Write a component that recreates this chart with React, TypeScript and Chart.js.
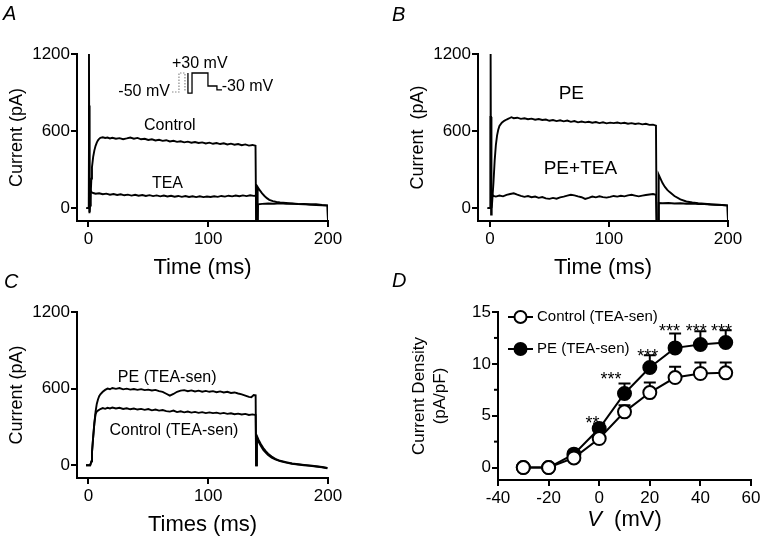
import React, { useEffect, useRef } from "react";
import { Chart, registerables } from "chart.js";

Chart.register(...registerables);

const FONT = '"Liberation Sans", Arial, Helvetica, sans-serif';

// ---------- Panel A: Control vs TEA (time ms, current pA) ----------
const A_CONTROL: [number, number][] = [
  [-1.7, 0], [0.3, 0], [0.5, 1200], [0.9, -40], [1.4, 20], [2, 120], [2.5, 230], [3, 320], [4, 400], [5, 450],
  [6, 485], [7, 510], [8, 528], [9, 540], [10, 548], [12, 552], [14, 546], [16, 550], [18, 543], [20, 548],
  [23, 540], [26, 545], [29, 537], [32, 543], [35, 550], [38, 541], [41, 547], [44, 536], [47, 540], [50, 531],
  [53, 536], [56, 527], [59, 532], [62, 524], [65, 529], [68, 519], [71, 524], [74, 516], [77, 521], [80, 512],
  [83, 518], [86, 509], [89, 515], [92, 507], [95, 512], [98, 504], [101, 510], [104, 501], [107, 507], [110, 499],
  [113, 505], [116, 496], [119, 502], [122, 494], [125, 499], [128, 490], [131, 496], [134, 487], [137, 492], [139.5, 486],
  [140, -100], [141, -100], [141.3, 165], [143, 140], [145, 115], [147, 95], [149, 78], [151, 65], [154, 55], [157, 48],
  [160, 44], [165, 40], [170, 36], [175, 32], [180, 30], [185, 28], [190, 25], [195, 22], [199.6, 20], [200, -100],
];
const A_TEA: [number, number][] = [
  [-1.7, 0], [0.3, 0], [0.6, 800], [1.0, -30], [1.8, 140], [2.5, 125], [4, 118], [6, 112], [9, 116], [12, 108],
  [15, 113], [18, 105], [21, 110], [24, 103], [27, 108], [30, 100], [33, 105], [36, 98], [39, 104], [42, 97],
  [45, 102], [48, 95], [51, 101], [54, 94], [57, 99], [60, 92], [63, 98], [66, 91], [69, 96], [72, 89],
  [75, 95], [78, 88], [81, 94], [84, 87], [87, 93], [90, 86], [93, 92], [96, 86], [99, 91], [102, 87],
  [105, 93], [108, 88], [111, 95], [114, 90], [117, 97], [120, 92], [123, 98], [126, 93], [129, 99], [132, 94],
  [135, 100], [138, 96], [139.8, 98], [140.2, -100], [141.3, -100], [141.6, 30], [145, 33], [150, 36], [155, 34], [160, 37],
  [165, 33], [170, 35], [175, 31], [180, 33], [185, 28], [190, 30], [195, 25], [199.6, 22], [200, -100],
];
// voltage-protocol inset, drawn in the panel's own (ms, pA) frame
const A_PROTOCOL_DOTTED: [number, number][] = [[69.8, 904], [75.6, 904], [75.6, 1052], [80.6, 1052], [80.6, 904]];
const A_PROTOCOL_SOLID: [number, number][] = [
  [83.1, 1052], [83.1, 896], [86.5, 896], [86.5, 1052], [99.8, 1052], [99.8, 951], [107.3, 951], [107.3, 920], [111.5, 920],
];

// ---------- Panel B: PE vs PE+TEA ----------
const B_PE: [number, number][] = [
  [-2, 0], [0.3, 0], [0.6, 1200], [1.0, -50], [1.5, 0], [2, 60], [3, 200], [4, 370], [5, 490], [6, 565],
  [7, 610], [8, 640], [10, 665], [12, 680], [14, 690], [16, 698], [18, 708], [20, 700], [23, 704], [26, 695],
  [29, 700], [32, 692], [35, 697], [38, 688], [41, 694], [44, 686], [47, 690], [50, 680], [53, 686], [56, 678],
  [59, 684], [62, 676], [65, 682], [68, 672], [71, 678], [74, 668], [77, 674], [80, 668], [83, 672], [86, 665],
  [89, 670], [92, 662], [95, 668], [98, 660], [101, 666], [104, 662], [107, 667], [110, 660], [113, 665], [116, 657],
  [119, 662], [122, 655], [125, 660], [128, 652], [131, 657], [134, 648], [137, 650], [139.5, 642], [140, -100], [141.5, -100],
  [141.8, 260], [143, 235], [145, 195], [147, 165], [149, 142], [151, 125], [155, 95], [160, 68], [165, 52], [170, 44],
  [175, 38], [180, 34], [185, 30], [190, 27], [195, 24], [199.6, 22], [200, -100],
];
const B_PE_TEA: [number, number][] = [
  [-2, 0], [0.3, 0], [0.5, 710], [1.0, 710], [1.3, 0], [2, 105], [3, 95], [5, 90], [8, 98], [11, 92],
  [14, 104], [17, 110], [20, 116], [23, 105], [26, 96], [29, 88], [32, 94], [35, 85], [38, 90], [41, 80],
  [44, 86], [47, 76], [50, 72], [53, 80], [56, 74], [59, 84], [62, 90], [65, 98], [68, 104], [71, 100],
  [74, 92], [77, 85], [80, 72], [83, 80], [86, 90], [89, 84], [92, 92], [95, 86], [98, 82], [101, 88],
  [104, 95], [107, 90], [110, 96], [113, 92], [116, 99], [119, 104], [122, 98], [125, 92], [128, 98], [131, 102],
  [134, 106], [137, 110], [139.5, 104], [140, -100], [141.5, -100], [141.8, 40], [145, 38], [150, 40], [155, 36], [160, 38],
  [165, 34], [170, 35], [175, 31], [180, 32], [185, 28], [190, 27], [195, 24], [199.6, 20], [200, -100],
];

// ---------- Panel C: TEA-sensitive currents ----------
const C_PE: [number, number][] = [
  [-2, 0], [1.5, 0], [2.5, 30], [3, 100], [4, 220], [5, 330], [6, 420], [7, 480], [8, 515], [9, 540],
  [10, 555], [12, 575], [14, 590], [16, 600], [18, 595], [20, 605], [23, 598], [26, 604], [29, 594], [32, 600],
  [35, 592], [38, 597], [41, 590], [44, 596], [47, 588], [50, 592], [53, 585], [56, 590], [59, 580], [62, 575],
  [65, 560], [68, 545], [71, 558], [74, 575], [77, 584], [80, 588], [83, 580], [86, 586], [89, 578], [92, 584],
  [95, 576], [98, 582], [101, 575], [104, 580], [107, 572], [110, 578], [113, 570], [116, 575], [119, 566], [122, 570],
  [125, 562], [128, 555], [131, 545], [134, 535], [136, 532], [138, 550], [139.6, 548], [140, 0], [140.6, 230], [142, 200],
  [144, 165], [146, 135], [148, 110], [150, 90], [153, 68], [156, 50], [160, 35], [165, 24], [170, 14], [175, 8],
  [180, 3], [185, -2], [190, -8], [195, -14], [199.5, -22],
];
const C_CONTROL: [number, number][] = [
  [-2, 0], [1.5, 0], [2.5, 30], [3, 100], [4, 220], [5, 330], [6, 400], [7, 420], [8, 428], [10, 440],
  [12, 448], [14, 442], [16, 450], [18, 445], [20, 452], [23, 444], [26, 450], [29, 441], [32, 446], [35, 438],
  [38, 444], [41, 436], [44, 441], [47, 434], [50, 440], [53, 430], [56, 436], [59, 428], [62, 432], [65, 424],
  [68, 420], [71, 428], [74, 416], [77, 422], [80, 414], [83, 420], [86, 412], [89, 418], [92, 410], [95, 416],
  [98, 408], [101, 414], [104, 408], [107, 412], [110, 404], [113, 410], [116, 402], [119, 407], [122, 399], [125, 404],
  [128, 397], [131, 402], [134, 394], [137, 398], [139.6, 393], [140, 0], [140.6, 220], [142, 185], [144, 150], [146, 120],
  [148, 98], [150, 80], [153, 60], [156, 45], [160, 32], [165, 20], [170, 12], [175, 6], [180, 0], [185, -5],
  [190, -10], [195, -16], [199.5, -24],
];

const TIME_TICKS = [0, 100, 200];
const CURRENT_TICKS = [0, 600, 1200];

// ---------- Panel D: I-V relation ----------
const D_VOLTAGE = [-30, -20, -10, 0, 10, 20, 30, 40, 50];
const D_CONTROL = [0, 0, 0.93, 2.8, 5.37, 7.23, 8.68, 9.07, 9.13];
const D_CONTROL_ERR = [0, 0, 0.2, 0.3, 0.64, 0.97, 1.03, 1.06, 1.0];
const D_PE = [0, 0, 1.29, 3.76, 7.14, 9.65, 11.54, 11.86, 12.06];
const D_PE_ERR = [0, 0, 0.2, 0.48, 0.96, 1.18, 1.39, 1.29, 1.19];
const D_X_TICKS = [-40, -20, 0, 20, 40, 60];
const D_Y_TICKS = [0, 5, 10, 15];
const D_Y_MINOR = [2.5, 7.5, 12.5];
const D_STAR_TEXT = ["**", "***", "***", "***", "***", "***"];
const D_STAR_V = [-2.6, 4.7, 19.2, 27.8, 38.4, 48.3];
const D_STAR_Y = [4.72, 8.9, 11.15, 13.55, 13.55, 13.55];

type Pt = [number, number];

function axis(o: {
  min: number; max: number; ticks: number[]; isX: boolean; size: number;
  title?: string; titleSize?: number; tickLen?: number;
}) {
  return {
    type: "linear",
    min: o.min,
    max: o.max,
    afterBuildTicks: (s: any) => { s.ticks = o.ticks.map((v) => ({ value: v })); },
    afterFit: (s: any) => { if (o.isX) s.height = o.size; else s.width = o.size; },
    border: { display: true, color: "#000", width: 2 },
    grid: { display: true, drawOnChartArea: false, drawTicks: true, tickLength: o.tickLen ?? 6, color: "#000", lineWidth: 2 },
    ticks: {
      color: "#000", font: { family: FONT, size: 17 }, padding: o.isX ? 2 : 1,
      maxRotation: 0, minRotation: 0, autoSkip: false, callback: (v: any) => String(v),
    },
    title: o.title
      ? { display: true, text: o.title, color: "#000", font: { family: FONT, size: o.titleSize ?? 18 }, padding: { top: 6, bottom: 0 } }
      : { display: false },
  };
}

function textAt(ctx: CanvasRenderingContext2D, text: string, x: number, y: number, size: number, style = "") {
  ctx.save();
  ctx.fillStyle = "#000";
  ctx.font = `${style}${size}px ${FONT}`;
  ctx.textAlign = "center";
  ctx.textBaseline = "middle";
  ctx.fillText(text, x, y);
  ctx.restore();
}

function letter(ctx: CanvasRenderingContext2D, text: string, x: number, y: number) {
  ctx.save();
  ctx.fillStyle = "#000";
  ctx.font = `italic 20px ${FONT}`;
  ctx.textAlign = "left";
  ctx.textBaseline = "alphabetic";
  ctx.fillText(text, x, y);
  ctx.restore();
}

function traceDataset(tr: Pt[]) {
  return {
    data: tr.map(([x, y]) => ({ x, y })),
    borderColor: "#000",
    borderWidth: 1.9,
    pointRadius: 0,
    fill: false,
    tension: 0,
  };
}

function traceConfig(p: {
  traces: Pt[][]; xmin: number; padding: { left: number; top: number; right: number; bottom: number };
  yTitle: string; xTitle: string; draw: (chart: any) => void;
}) {
  return {
    type: "line",
    data: { datasets: p.traces.map(traceDataset) },
    options: {
      responsive: false,
      animation: false,
      devicePixelRatio: 1,
      layout: { padding: p.padding },
      plugins: { legend: { display: false }, tooltip: { enabled: false } },
      scales: {
        x: axis({ min: p.xmin, max: 200, ticks: TIME_TICKS, isX: true, size: 60, title: p.xTitle, titleSize: 22 }),
        y: axis({ min: -100, max: 1200, ticks: CURRENT_TICKS, isX: false, size: 77, title: p.yTitle, titleSize: 18 }),
      },
    },
    plugins: [{ id: "annot", afterDraw: (chart: any) => p.draw(chart) }],
  };
}

function configA() {
  return traceConfig({
    traces: [A_CONTROL, A_TEA], xmin: -9.5,
    padding: { left: 0, top: 54, right: 437, bottom: 263 },
    yTitle: "Current (pA)", xTitle: "Time (ms)",
    draw: (chart) => {
      const ctx = chart.ctx as CanvasRenderingContext2D;
      const xs = chart.scales.x, ys = chart.scales.y;
      const px = (t: number) => xs.getPixelForValue(t);
      const py = (i: number) => ys.getPixelForValue(i);
      letter(ctx, "A", 3, 20);
      textAt(ctx, "Control", px(68), py(640), 16);
      textAt(ctx, "TEA", px(66), py(190), 16);
      textAt(ctx, "+30 mV", px(93), py(1122), 16);
      textAt(ctx, "-50 mV", px(46.5), py(911), 16);
      textAt(ctx, "-30 mV", px(132.8), py(945), 16);
      const poly = (pts: Pt[]) => {
        ctx.beginPath();
        pts.forEach(([t, i], k) => (k ? ctx.lineTo(px(t), py(i)) : ctx.moveTo(px(t), py(i))));
        ctx.stroke();
      };
      ctx.save();
      ctx.strokeStyle = "#888";
      ctx.lineWidth = 1.2;
      ctx.setLineDash([1.5, 1.5]);
      poly(A_PROTOCOL_DOTTED);
      ctx.setLineDash([]);
      ctx.strokeStyle = "#000";
      ctx.lineWidth = 1.3;
      poly(A_PROTOCOL_SOLID);
      ctx.restore();
    },
  });
}

function configB() {
  return traceConfig({
    traces: [B_PE, B_PE_TEA], xmin: -10,
    padding: { left: 401, top: 54, right: 37, bottom: 263 },
    yTitle: "Current  (pA)", xTitle: "Time (ms)",
    draw: (chart) => {
      const ctx = chart.ctx as CanvasRenderingContext2D;
      const xs = chart.scales.x, ys = chart.scales.y;
      letter(ctx, "B", 392, 21);
      textAt(ctx, "PE", xs.getPixelForValue(68.4), ys.getPixelForValue(888), 19);
      textAt(ctx, "PE+TEA", xs.getPixelForValue(76), ys.getPixelForValue(309), 19);
    },
  });
}

function configC() {
  return traceConfig({
    traces: [C_PE, C_CONTROL], xmin: -9.5,
    padding: { left: 0, top: 312, right: 437, bottom: 6 },
    yTitle: "Current (pA)", xTitle: "Times (ms)",
    draw: (chart) => {
      const ctx = chart.ctx as CanvasRenderingContext2D;
      const xs = chart.scales.x, ys = chart.scales.y;
      letter(ctx, "C", 4, 288);
      textAt(ctx, "PE (TEA-sen)", xs.getPixelForValue(65.8), ys.getPixelForValue(689), 16);
      textAt(ctx, "Control (TEA-sen)", xs.getPixelForValue(71.4), ys.getPixelForValue(269), 16);
    },
  });
}

function configD() {
  const pts = (vals: number[]) => D_VOLTAGE.map((v, i) => ({ x: v, y: vals[i] }));
  const series = (vals: number[], fillColor: string) => ({
    data: pts(vals),
    borderColor: "#000",
    borderWidth: 2,
    pointRadius: 6.5,
    pointBackgroundColor: fillColor,
    pointBorderColor: "#000",
    pointBorderWidth: 2,
    fill: false,
    tension: 0,
  });
  return {
    type: "line",
    data: { datasets: [series(D_CONTROL, "#fff"), series(D_PE, "#000")] },
    options: {
      responsive: false,
      animation: false,
      devicePixelRatio: 1,
      layout: { padding: { left: 440, top: 312, right: 14, bottom: 14 } },
      plugins: { legend: { display: false }, tooltip: { enabled: false } },
      scales: {
        x: axis({ min: -40, max: 60, ticks: D_X_TICKS, isX: true, size: 50 }),
        y: axis({ min: -1.2, max: 15, ticks: D_Y_TICKS, isX: false, size: 58 }),
      },
    },
    plugins: [
      {
        id: "errbars",
        beforeDatasetsDraw: (chart: any) => {
          const ctx = chart.ctx as CanvasRenderingContext2D;
          const xs = chart.scales.x, ys = chart.scales.y;
          ctx.save();
          ctx.strokeStyle = "#000";
          ctx.lineWidth = 2;
          const bars = (vals: number[], errs: number[]) => {
            D_VOLTAGE.forEach((v, i) => {
              if (!errs[i]) return;
              const x = xs.getPixelForValue(v);
              const y1 = ys.getPixelForValue(vals[i]);
              const y2 = ys.getPixelForValue(vals[i] + errs[i]);
              ctx.beginPath();
              ctx.moveTo(x, y1); ctx.lineTo(x, y2);
              ctx.moveTo(x - 6, y2); ctx.lineTo(x + 6, y2);
              ctx.stroke();
            });
          };
          bars(D_CONTROL, D_CONTROL_ERR);
          bars(D_PE, D_PE_ERR);
          ctx.restore();
        },
        afterDraw: (chart: any) => {
          const ctx = chart.ctx as CanvasRenderingContext2D;
          const xs = chart.scales.x, ys = chart.scales.y;
          const area = chart.chartArea;
          letter(ctx, "D", 392, 287);
          // minor ticks on y axis
          ctx.save();
          ctx.strokeStyle = "#000";
          ctx.lineWidth = 2;
          D_Y_MINOR.forEach((v) => {
            const y = ys.getPixelForValue(v);
            ctx.beginPath();
            ctx.moveTo(area.left - 4, y);
            ctx.lineTo(area.left, y);
            ctx.stroke();
          });
          ctx.restore();
          // significance stars
          ctx.save();
          ctx.fillStyle = "#000";
          ctx.font = `18px ${FONT}`;
          ctx.textAlign = "center";
          ctx.textBaseline = "alphabetic";
          D_STAR_TEXT.forEach((s, i) => {
            ctx.fillText(s, xs.getPixelForValue(D_STAR_V[i]), ys.getPixelForValue(D_STAR_Y[i]) + 10);
          });
          ctx.restore();
          // legend
          const legendRow = (y: number, fillColor: string, label: string) => {
            const x0 = area.left + 10;
            ctx.save();
            ctx.strokeStyle = "#000";
            ctx.lineWidth = 2;
            ctx.beginPath();
            ctx.moveTo(x0, y); ctx.lineTo(x0 + 25, y);
            ctx.stroke();
            ctx.beginPath();
            ctx.arc(x0 + 12.5, y, 6, 0, Math.PI * 2);
            ctx.fillStyle = fillColor;
            ctx.fill();
            ctx.stroke();
            ctx.fillStyle = "#000";
            ctx.font = `15px ${FONT}`;
            ctx.textAlign = "left";
            ctx.textBaseline = "middle";
            ctx.fillText(label, x0 + 29, y);
            ctx.restore();
          };
          legendRow(area.top + 5, "#fff", "Control (TEA-sen)");
          legendRow(area.top + 37, "#000", "PE (TEA-sen)");
          // y title (two lines)
          const cy = (area.top + area.bottom) / 2;
          ctx.save();
          ctx.fillStyle = "#000";
          ctx.font = `17px ${FONT}`;
          ctx.textAlign = "center";
          ctx.textBaseline = "middle";
          ctx.translate(area.left - 79, cy);
          ctx.rotate(-Math.PI / 2);
          ctx.fillText("Current Density", 0, 0);
          ctx.fillText("(pA/pF)", 0, 21);
          ctx.restore();
          // x title: italic V + (mV)
          ctx.save();
          ctx.fillStyle = "#000";
          ctx.textBaseline = "middle";
          ctx.textAlign = "left";
          ctx.font = `italic 22px ${FONT}`;
          const wV = ctx.measureText("V").width;
          ctx.font = `22px ${FONT}`;
          const rest = "  (mV)";
          const wR = ctx.measureText(rest).width;
          const cx = (area.left + area.right) / 2;
          const x0 = cx - (wV + wR) / 2;
          ctx.font = `italic 22px ${FONT}`;
          ctx.fillText("V", x0, area.bottom + 40);
          ctx.font = `22px ${FONT}`;
          ctx.fillText(rest, x0 + wV, area.bottom + 40);
          ctx.restore();
        },
      },
    ],
  };
}

function Panel({ make }: { make: () => any }) {
  const ref = useRef<HTMLCanvasElement>(null);
  useEffect(() => {
    const chart = new Chart(ref.current as HTMLCanvasElement, make());
    return () => chart.destroy();
  }, [make]);
  return (
    <canvas
      ref={ref}
      width={765}
      height={544}
      style={{ position: "absolute", left: 0, top: 0, width: 765, height: 544 }}
    />
  );
}

export default function App() {
  return (
    <div style={{ position: "fixed", left: 0, top: 0, width: 765, height: 544, background: "#fff", overflow: "hidden" }}>
      <Panel make={configA} />
      <Panel make={configB} />
      <Panel make={configC} />
      <Panel make={configD} />
    </div>
  );
}
